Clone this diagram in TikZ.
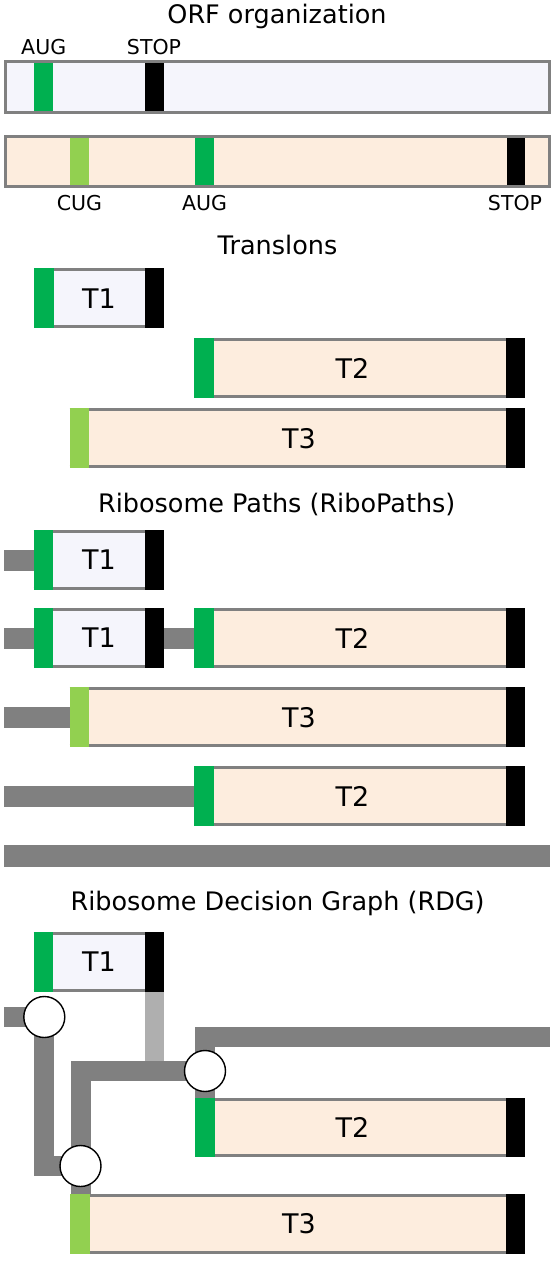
\documentclass[tikz,border=0pt]{standalone}
\usepackage{fontspec}
\setmainfont{DejaVu Sans}
\usetikzlibrary{calc}
\definecolor{lav}{HTML}{F5F5FC}
\definecolor{peach}{HTML}{FDEDDE}
\definecolor{aug}{HTML}{00B050}
\definecolor{cug}{HTML}{92D050}
\definecolor{pathgray}{HTML}{808080}
\definecolor{lightpath}{HTML}{AFAFAF}
\tikzset{
  title/.style={anchor=base, inner sep=0, font=\fontsize{25.5}{29}\selectfont},
  codon/.style={anchor=base, inner sep=0, font=\fontsize{20.5}{23}\selectfont},
  tlabel/.style={inner sep=0, font=\fontsize{27}{30}\selectfont},
  tbox/.style={inner sep=0, outer sep=0, draw=none},
  orfbox/.style={draw=pathgray, line width=3, inner sep=0, outer sep=0},
  rim/.style={draw=pathgray, line width=3},
  rpath/.style={draw=pathgray, line width=20, line join=miter},
  lpath/.style={draw=lightpath, line width=19},
  junction/.style={circle, draw=black, fill=white, line width=1.4, minimum size=41, inner sep=0},
}
% name, x1, x2, ytop, ybot, fill, start colour, label, label x
\newcommand{\translon}[9]{%
  \node[tbox, fill=#6, minimum width={#3-#2}, minimum height={#5-#4}] (#1) at ({(#2+#3)/2},{-(#4+#5)/2}) {};
  \draw[rim] ([yshift=-1.5]#1.north west) -- ([yshift=-1.5]#1.north east);
  \draw[rim] ([yshift=1.5]#1.south west) -- ([yshift=1.5]#1.south east);
  \fill[#7] (#1.north west) rectangle ([xshift=19.5]#1.south west);
  \fill[black] ([xshift=-19]#1.north east) rectangle (#1.south east);
  \node[tlabel] (#1-t) at (#9,{-(#4+#5)/2}) {#8};
}
\begin{document}
\begin{tikzpicture}[x=1pt,y=1pt]
\useasboundingbox[fill=white] (0,0) rectangle (552,-1280);

% ---------------- ORF organization ----------------
\node[title] (h1) at (277,-23.3) {ORF organization};
\node[orfbox, fill=lav, minimum width=543.5, minimum height=50.5] (orf1) at (277.25,-86.75) {};
\fill[aug] (34.3,-63) rectangle (52.8,-110.5);
\fill[black] (145,-63) rectangle (163.5,-110.5);
\node[codon] (l1) at (43.7,-54) {AUG};
\node[codon] (l2) at (154,-54) {STOP};

\node[orfbox, fill=peach, minimum width=543.5, minimum height=49.7] (orf2) at (277.25,-161.35) {};
\fill[cug] (70,-138) rectangle (88.5,-184.7);
\fill[aug] (194.5,-138) rectangle (213.5,-184.7);
\fill[black] (506.5,-138) rectangle (525,-184.7);
\node[codon] (l3) at (79.5,-210.7) {CUG};
\node[codon] (l4) at (204.5,-210.7) {AUG};
\node[codon] (l5) at (515,-210.7) {STOP};

% ---------------- Translons ----------------
\node[title] (h2) at (277.5,-254.3) {Translons};
\translon{a1}{34}{164}{268.3}{328.3}{lav}{aug}{T1}{99}
\translon{a2}{194}{525}{338.3}{398.3}{peach}{aug}{T2}{352.5}
\translon{a3}{69.5}{525}{408.3}{468.3}{peach}{cug}{T3}{299}

% ---------------- Ribosome Paths ----------------
\node[title] (h3) at (276.7,-512.3) {Ribosome Paths (RiboPaths)};
\translon{p1}{33.5}{164}{530}{590}{lav}{aug}{T1}{99}
\coordinate (s1) at (4,-560);
\draw[rpath, line width=21] (s1) -- (p1.west);

\translon{p2a}{33.5}{164}{608}{668}{lav}{aug}{T1}{99}
\translon{p2b}{194}{525}{608}{668}{peach}{aug}{T2}{352.5}
\coordinate (s2) at (4,-638);
\draw[rpath, line width=21] (s2) -- (p2a.west);
\draw[rpath, line width=21] (p2a.east) -- (p2b.west);

\translon{p3}{69.5}{525}{687.3}{747.3}{peach}{cug}{T3}{299}
\coordinate (s3) at (4,-717.3);
\draw[rpath, line width=21] (s3) -- (p3.west);

\translon{p4}{194}{525}{766}{826}{peach}{aug}{T2}{352.5}
\coordinate (s4) at (4,-796);
\draw[rpath, line width=21] (s4) -- (p4.west);

\coordinate (s5a) at (4,-856);
\coordinate (s5b) at (550,-856);
\draw[rpath, line width=22] (s5a) -- (s5b);

% ---------------- Ribosome Decision Graph ----------------
\node[title] (h4) at (277.6,-910.7) {Ribosome Decision Graph (RDG)};
\translon{g1}{33.5}{164}{932}{992}{lav}{aug}{T1}{99}
\translon{g2}{195}{525}{1098}{1157}{peach}{aug}{T2}{352.5}
\translon{g3}{70}{525}{1194}{1254}{peach}{cug}{T3}{299}

\coordinate (c1) at (44.3,-1017);
\coordinate (c2) at (205,-1071);
\coordinate (c3) at (80.5,-1166);
\coordinate (r0) at (4,-1017);
\coordinate (rend) at (549.5,-1036.5);

\draw[lpath] ([xshift=-9.5]g1.south east) -- ([xshift=-9.5]g1.south east |- c2);
\draw[rpath] (r0) -- (c1);
\draw[rpath] (c1) |- (c3);
\draw[rpath] (c3) |- (c2);
\draw[rpath] (c2) |- (rend);
\draw[rpath] (c2) -- (c2 |- g2.north);
\draw[rpath] (c3) -- (c3 |- g3.north);

\node[junction] (j1) at (c1) {};
\node[junction] (j2) at (c2) {};
\node[junction] (j3) at (c3) {};
\end{tikzpicture}
\end{document}
